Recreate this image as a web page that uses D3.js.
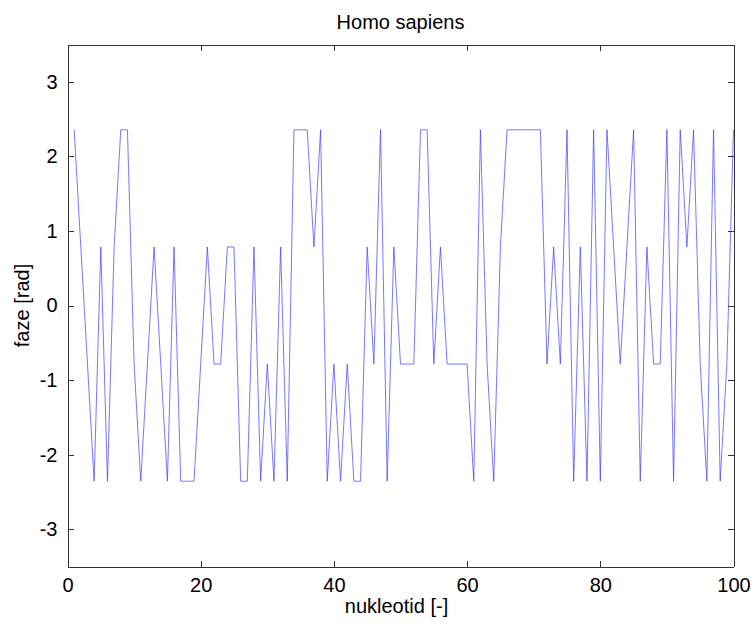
<!DOCTYPE html>
<html>
<head>
<meta charset="utf-8">
<script src="https://cdn.jsdelivr.net/npm/d3@7"></script>
<style>
  body { margin: 0; background: #fff; }
  text { font-family: "Liberation Sans", Arial, sans-serif; fill: #000; }
</style>
</head>
<body>
<svg id="chart" width="751" height="623"></svg>
<script>
// Phase (rad) of each nucleotide position in the sequence
const positions = d3.range(1, 101);
const phase = [
   2.356,  0.785, -0.785, -2.356,  0.785, -2.356,  0.785,  2.356,  2.356, -0.785,
  -2.356, -0.785,  0.785, -0.785, -2.356,  0.785, -2.356, -2.356, -2.356, -0.785,
   0.785, -0.785, -0.785,  0.785,  0.785, -2.356, -2.356,  0.785, -2.356, -0.785,
  -2.356,  0.785, -2.356,  2.356,  2.356,  2.356,  0.785,  2.356, -2.356, -0.785,
  -2.356, -0.785, -2.356, -2.356,  0.785, -0.785,  2.356, -2.356,  0.785, -0.785,
  -0.785, -0.785,  2.356,  2.356, -0.785,  0.785, -0.785, -0.785, -0.785, -0.785,
  -2.356,  2.356, -0.785, -2.356,  0.785,  2.356,  2.356,  2.356,  2.356,  2.356,
   2.356, -0.785,  0.785, -0.785,  2.356, -2.356,  0.785, -2.356,  2.356, -2.356,
   2.356,  0.785, -0.785,  0.785,  2.356, -2.356,  0.785, -0.785, -0.785,  2.356,
  -2.356,  2.356,  0.785,  2.356, -0.785, -2.356,  2.356, -2.356, -0.785,  2.356
];
const xTicks = [0, 20, 40, 60, 80, 100];
const yTicks = [-3, -2, -1, 0, 1, 2, 3];
const xDomain = [0, 100];
const yDomain = [-3.5, 3.5];

const titleText = "Homo sapiens";
const xLabel = "nukleotid [-]";
const yLabel = "faze [rad]";

const svg = d3.select("#chart");
const L = 67.5, R = 733.5, T = 44.5, B = 566.5;

const x = d3.scaleLinear().domain(xDomain).range([L, R]);
const y = d3.scaleLinear().domain(yDomain).range([B, T]);

const axisColor = "#333";
const tickLen = 6;
const plainNum = d => String(d); // ASCII hyphen for negatives

function styleAxis(g) {
  g.selectAll("path.domain").attr("stroke", axisColor).attr("stroke-width", 1);
  g.selectAll(".tick line").attr("stroke", axisColor).attr("stroke-width", 1);
  g.attr("shape-rendering", "crispEdges");
}

// bottom axis with labels
const gB = svg.append("g").attr("transform", `translate(0,${B})`)
  .call(d3.axisBottom(x).tickValues(xTicks).tickSizeInner(-tickLen).tickSizeOuter(0)
    .tickPadding(10).tickFormat(plainNum))
  .call(styleAxis);
gB.selectAll(".tick text").attr("font-size", 20).attr("dy", "0.71em").attr("y", 11)
  .style("font-family", "Liberation Sans, Arial, sans-serif").attr("fill", "#000");

// top axis, ticks only
svg.append("g").attr("transform", `translate(0,${T})`)
  .call(d3.axisTop(x).tickValues(xTicks).tickSizeInner(-tickLen).tickSizeOuter(0).tickFormat(""))
  .call(styleAxis);

// left axis with labels
const gL = svg.append("g").attr("transform", `translate(${L},0)`)
  .call(d3.axisLeft(y).tickValues(yTicks).tickSizeInner(-tickLen).tickSizeOuter(0)
    .tickPadding(10).tickFormat(plainNum))
  .call(styleAxis);
gL.selectAll(".tick text").attr("font-size", 20).attr("x", -10)
  .style("font-family", "Liberation Sans, Arial, sans-serif").attr("fill", "#000");

// right axis, ticks only
svg.append("g").attr("transform", `translate(${R},0)`)
  .call(d3.axisRight(y).tickValues(yTicks).tickSizeInner(-tickLen).tickSizeOuter(0).tickFormat(""))
  .call(styleAxis);

// phase line
const line = d3.line().x((d, i) => x(positions[i])).y(d => y(d));
svg.append("path")
  .datum(phase)
  .attr("fill", "none")
  .attr("stroke", "#3c3cff")
  .attr("stroke-width", 0.7)
  .attr("stroke-linejoin", "miter")
  .attr("d", line);

// title and axis labels
svg.append("text").attr("x", (L + R) / 2).attr("y", 29)
  .attr("text-anchor", "middle").attr("font-size", 20).text(titleText);
svg.append("text").attr("x", (L + R) / 2 - 4).attr("y", 613)
  .attr("text-anchor", "middle").attr("font-size", 20).text(xLabel);
svg.append("text").attr("transform", `translate(29,${y(0)}) rotate(-90)`)
  .attr("text-anchor", "middle").attr("font-size", 20).text(yLabel);
</script>
</body>
</html>
